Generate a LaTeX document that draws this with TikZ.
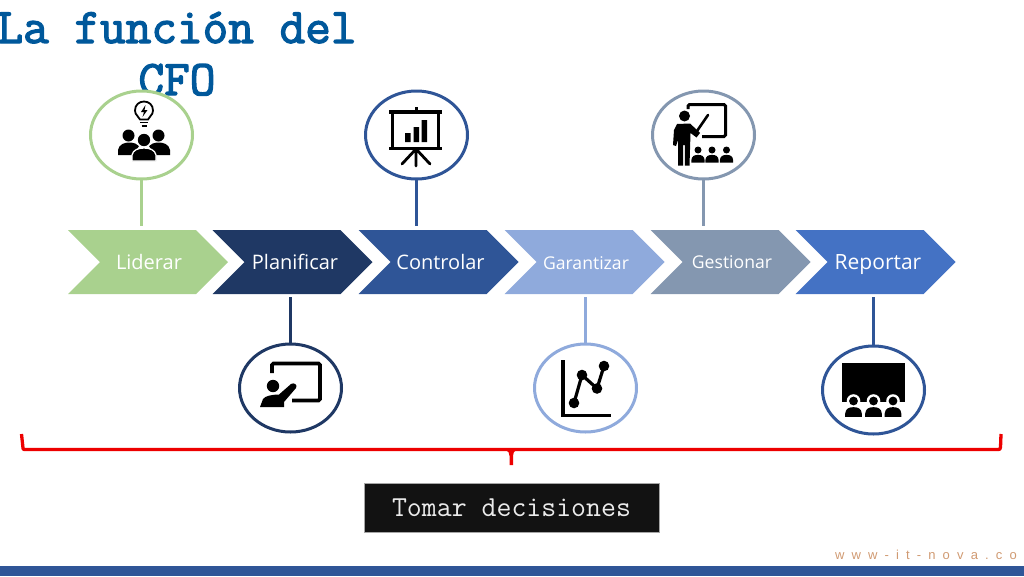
\documentclass[tikz,border=0pt]{standalone}
\usepackage{fontspec}
\setmainfont{Open Sans}
\newfontfamily\webfam[LetterSpace=55]{Liberation Sans}
\newfontfamily\titlefam[FakeBold=2.6]{Latin Modern Mono}
\usetikzlibrary{shapes.geometric,shapes.symbols}
\definecolor{cLid}{HTML}{A9D18E}
\definecolor{cPla}{HTML}{1F3864}
\definecolor{cCon}{HTML}{2F5597}
\definecolor{cGar}{HTML}{8FAADC}
\definecolor{cGes}{HTML}{8497B0}
\definecolor{cRep}{HTML}{4472C4}
\definecolor{cTitle}{HTML}{00589B}
\definecolor{cWeb}{HTML}{D09A72}
\tikzset{
  chev/.style={shape=signal,signal to=east,signal from=west,signal pointer angle=90,
    minimum width=160pt,minimum height=64pt,inner sep=0pt,outer sep=0pt,fill=#1,text=white,
    text height=16pt,text depth=1pt,font=\fontsize{20}{24}\selectfont},
  ring/.style={shape=ellipse,minimum width=102pt,minimum height=88pt,inner sep=0pt,outer sep=0pt,draw=#1,line width=3pt,fill=white},
  link/.style={draw=#1,line width=2.5pt},
  titletext/.style={anchor=base,text=cTitle,font=\titlefam\fontsize{49.8}{54}\selectfont,inner sep=0pt},
  pics/person/.style={code={
    \fill (0,0) circle (1);
    \fill (-1.9,3.6) -- (-1.9,2.9) .. controls (-1.8,1.7) and (-1,1.4) .. (0,1.4)
      .. controls (1,1.4) and (1.8,1.7) .. (1.9,2.9) -- (1.9,3.6) -- cycle;
  }}
}
\begin{document}
\begin{tikzpicture}[x=1pt,y=-1pt]
\useasboundingbox (0,0) rectangle (1024,576);
% footer band
\fill[cCon] (0,566) rectangle (1024,576);
\node[anchor=base east,text=cWeb,font=\webfam\fontsize{13}{15}\selectfont,inner sep=0pt] (web) at (1017,559) {www-it-nova.co};
% title
\node[titletext] (title1) at (177,43) {La función del};
\node[titletext] (title2) at (177,95) {CFO};
% chevrons
\node[chev=cLid] (c1) at (148,262) {\hspace*{2pt}Liderar};
\node[chev=cPla] (c2) at (292.5,262) {\hspace*{5pt}Planificar};
\node[chev=cCon] (c3) at (438.5,262) {\hspace*{4pt}Controlar};
\node[chev=cGar,font=\fontsize{17.6}{20}\selectfont] (c4) at (584.5,262) {\hspace*{3pt}Garantizar};
\node[chev=cGes,font=\fontsize{17.6}{20}\selectfont,text height=14pt] (c5) at (730.5,262) {\hspace*{3pt}Gestionar};
\node[chev=cRep,font=\fontsize{21}{24}\selectfont] (c6) at (875.5,262) {\hspace*{5pt}Reportar};
% circles
\node[ring=cLid] (e1) at (141.5,135) {};
\node[ring=cPla] (e2) at (290.5,388) {};
\node[ring=cCon] (e3) at (416.5,135) {};
\node[ring=cGar] (e4) at (585.5,388) {};
\node[ring=cGes] (e5) at (703.5,135) {};
\node[ring=cCon] (e6) at (873.5,390) {};
% connectors
\draw[link=cLid,shorten >=4pt] (e1.south) -- (e1.south |- c1.north);
\draw[link=cPla,shorten >=3pt] (e2.north) -- (e2.north |- c2.south);
\draw[link=cCon,shorten >=4pt] (e3.south) -- (e3.south |- c3.north);
\draw[link=cGar,shorten >=3pt] (e4.north) -- (e4.north |- c4.south);
\draw[link=cGes,shorten >=4pt] (e5.south) -- (e5.south |- c5.north);
\draw[link=cCon,shorten >=3pt] (e6.north) -- (e6.north |- c6.south);
% icon 1: bulb and people
\draw[black,line width=1.8pt,fill=white] (140,119.5) .. controls (139,116) and (135,115.5) .. (135,110.5)
  .. controls (135,105) and (139,101.5) .. (144,101.5) .. controls (149,101.5) and (153,105) .. (153,110.5)
  .. controls (153,115.5) and (149,116) .. (148,119.5) -- cycle;
\fill (145.5,105) -- (141,112) -- (144,112) -- (142.5,117) -- (147.5,110) -- (144.5,110) -- cycle;
\draw[black,line width=1.7pt] (140,122.5) -- (148,122.5) (141.5,126) -- (146.5,126);
\fill (128.5,135.5) circle (6) (158.5,135.5) circle (6);
\fill (118,155) -- (118,150) .. controls (119,144) and (125,142.5) .. (129,142.5) .. controls (134,142.5) and (137,144) .. (139,146) -- (133,155) -- cycle;
\fill (170,155) -- (170,150) .. controls (169,144) and (163,142.5) .. (159,142.5) .. controls (154,142.5) and (151,144) .. (149,146) -- (155,155) -- cycle;
\draw[white,line width=1.3pt,fill=black] (144,140) circle (7);
\draw[white,line width=1.3pt,fill=black] (132,161) -- (132,155) .. controls (133,150) and (138,148) .. (144,148) .. controls (150,148) and (155,150) .. (156,155) -- (156,161) -- cycle;
% icon 2: projection screen
\fill (414.5,107) rectangle (417.5,112);
\fill (389,110) rectangle (442,114);
\fill (389,146.5) rectangle (442,150);
\draw[black,line width=3.4pt] (392.5,113) -- (392.5,147) (438.5,113) -- (438.5,147);
\fill (405,133) rectangle (410.5,142) (413.5,127) rectangle (419,142) (421.5,120) rectangle (427,142);
\draw[black,line width=2.8pt,line cap=round] (416,149) -- (402,164) (416,149) -- (416,166) (416,149) -- (430,164);
% icon 3: teacher with audience
\draw[black,line width=3pt,rounded corners=1.5pt] (688,109) -- (688,104.5) -- (725.5,104.5) -- (725.5,136.5) -- (702,136.5);
\draw[black,line width=2.6pt,line cap=round] (697,131) -- (708,115);
\fill (684.5,116) circle (5.5);
\fill (677,124) -- (690,123.5) -- (697,130) -- (700,133) -- (696.5,137.5) -- (690.5,133) -- (689.5,165.5) -- (684.8,165.5) -- (684.8,145) -- (683.2,145) -- (683.2,165.5) -- (678,165.5) -- (678,140) -- (676,146) -- (673,145) -- (674,130) -- cycle;
\begin{scope}[black]
\pic[scale=3.5] at (698,150) {person};
\pic[scale=3.5] at (712,150) {person};
\pic[scale=3.5] at (726.5,150) {person};
\end{scope}
% icon 4: presenter
\draw[black,line width=3.8pt,rounded corners=1.5pt] (272,373) -- (272,363.5) -- (320,363.5) -- (320,400.5) -- (292,400.5);
\fill (273,386) circle (6.2);
\fill (260,407) -- (263,399) .. controls (265,396) and (272,394.5) .. (279,394.5) -- (291,384) .. controls (294,382) and (298,385) .. (296,388) -- (284,402) -- (284,407) -- cycle;
% icon 5: chart
\draw[black,line width=3.8pt] (563,360) -- (563,415.5) -- (611,415.5);
\draw[black,line width=3.2pt] (574,403) -- (582,375) -- (597,388.5) -- (604,366);
\fill (574,403) circle (5.3) (582,375) circle (5.3) (597,388.5) circle (5.3) (604,366) circle (5.3);
% icon 6: theatre
\fill (842,363) rectangle (905,402);
\foreach \px in {853.5,873.5,893}{
  \fill[white] (\px,401) circle (6.8);
}
\begin{scope}[black]
\pic[scale=4.4] at (853.5,401) {person};
\pic[scale=4.4] at (873.5,401) {person};
\pic[scale=4.4] at (893,401) {person};
\end{scope}
% brace
\draw[red!93!black,line width=3.3pt,line join=round] (21.5,434) -- (23,448) .. controls (23,449.5) .. (26,449.5) -- (998,449.5) .. controls (1000,449.5) .. (1000.5,447) -- (1001,434);
\fill[red!93!black] (504,450) .. controls (509,451) and (509.5,453) .. (509.5,456) -- (509.5,465) -- (513,465) -- (513,456) .. controls (513,453) and (513.5,451) .. (518,450) -- cycle;
% decision box
\node[draw=black!35,line width=0.6pt,fill=black!93,text=white!92!black,minimum width=295pt,minimum height=49pt,inner sep=0pt,font=\ttfamily\fontsize{29}{32}\selectfont] (box) at (511.5,507.5) {Tomar decisiones};
\end{tikzpicture}
\end{document}
